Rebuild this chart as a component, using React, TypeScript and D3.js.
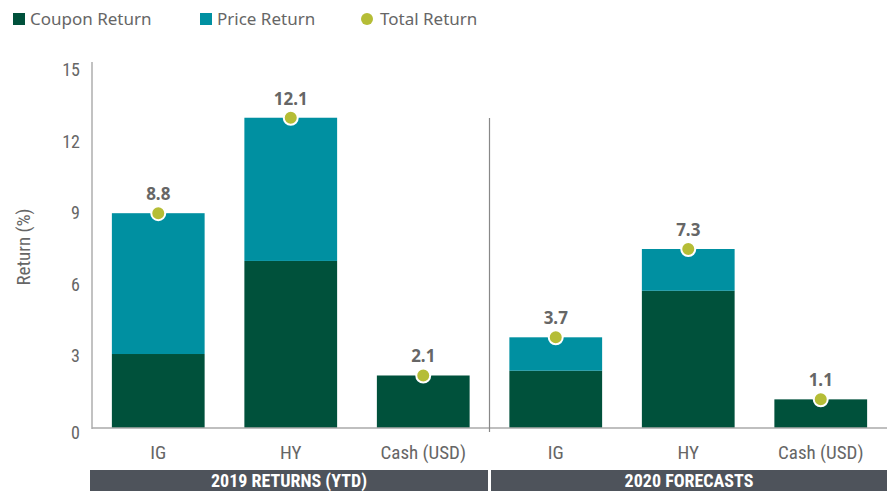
import React from "react";
import * as d3 from "d3";

const categories = ["IG", "HY", "Cash (USD)", "IG ", "HY ", "Cash (USD) "];
const categoryLabels = ["IG", "HY", "Cash (USD)", "IG", "HY", "Cash (USD)"];
const couponReturn = [3.1, 7.0, 2.2, 2.4, 5.75, 1.2];
const priceReturn = [5.9, 6.0, 0, 1.4, 1.75, 0];
const totalLabels = ["8.8", "12.1", "2.1", "3.7", "7.3", "1.1"];
const groups = ["2019 RETURNS (YTD)", "2020 FORECASTS"];
const yTicks = [0, 3, 6, 9, 12, 15];

const W = 887;
const H = 491;
const COUPON = "#00513b";
const PRICE = "#0090a1";
const TOTAL = "#b5bd36";
const TEXT = "#666666";
const NARROW = "'Liberation Sans Narrow', 'Arial Narrow', 'Roboto Condensed', sans-serif";
const SANS = "'Noto Sans', 'Open Sans', sans-serif";

export default function App() {
  const x = d3.scaleBand<string>().domain(categories).range([92, 887]).paddingInner(0.3).paddingOuter(0.15);
  const y = d3.scaleLinear().domain([0, 15]).range([428, 70]);
  const sepX = 92 + 3 * (795 / 6);

  return (
    <svg width={W} height={H} style={{ position: "absolute", left: 0, top: 0, background: "#fff" }}>
      {/* legend */}
      <g fontFamily={SANS} fontSize={17} fill={TEXT}>
        <rect x={13} y={13} width={12} height={12} fill={COUPON} />
        <text x={30} y={25}>Coupon Return</text>
        <rect x={200} y={13} width={12} height={12} fill={PRICE} />
        <text x={217} y={25}>Price Return</text>
        <circle cx={367} cy={19} r={6} fill={TOTAL} />
        <text x={380} y={25}>Total Return</text>
      </g>

      {/* y axis */}
      <line x1={92} x2={92} y1={62} y2={429} stroke="#999" strokeWidth={1.2} />
      {yTicks.map((t) => (
        <text key={t} x={80} y={y(t) + 6 + (t === 0 ? 5 : 0)} textAnchor="end" fontFamily={NARROW} fontSize={18} fill={TEXT}>
          {t}
        </text>
      ))}
      <text
        transform={`translate(30,247) rotate(-90)`}
        textAnchor="middle"
        fontFamily={NARROW}
        fontSize={19}
        fill={TEXT}
      >
        Return (%)
      </text>

      {/* bars */}
      {categories.map((c, i) => {
        const x0 = x(c)!;
        const bw = x.bandwidth();
        const top = couponReturn[i] + priceReturn[i];
        return (
          <g key={c}>
            <rect x={x0} y={y(couponReturn[i])} width={bw} height={y(0) - y(couponReturn[i])} fill={COUPON} />
            {priceReturn[i] > 0 && (
              <rect x={x0} y={y(top)} width={bw} height={y(couponReturn[i]) - y(top)} fill={PRICE} />
            )}
          </g>
        );
      })}

      {/* baseline & separator */}
      <line x1={92} x2={887} y1={428} y2={428} stroke="#aaa" strokeWidth={1.5} />
      <line x1={sepX} x2={sepX} y1={118} y2={432} stroke="#888" strokeWidth={1.2} />

      {/* totals */}
      {categories.map((c, i) => {
        const cx = x(c)! + x.bandwidth() / 2;
        const top = couponReturn[i] + priceReturn[i];
        return (
          <g key={"t" + c}>
            <circle cx={cx} cy={y(top)} r={7} fill={TOTAL} stroke="#fff" strokeWidth={2} />
            <text x={cx} y={y(top) - 13} textAnchor="middle" fontFamily={SANS} fontWeight={700} fontSize={17} fill={TEXT}>
              {totalLabels[i]}
            </text>
          </g>
        );
      })}

      {/* category labels */}
      {categories.map((c, i) => (
        <text key={"c" + c} x={x(c)! + x.bandwidth() / 2} y={459} textAnchor="middle" fontFamily={NARROW} fontSize={19} fill={TEXT}>
          {categoryLabels[i]}
        </text>
      ))}

      {/* group bands */}
      {groups.map((g, gi) => {
        const x0 = gi === 0 ? 90 : sepX + 1.5;
        const x1 = gi === 0 ? sepX - 1.5 : 887;
        return (
          <g key={g}>
            <rect x={x0} y={470} width={x1 - x0} height={21} fill="#4e535b" />
            <text x={(x0 + x1) / 2} y={487} textAnchor="middle" fontFamily={NARROW} fontWeight={700} fontSize={18} fill="#fff">
              {g}
            </text>
          </g>
        );
      })}
    </svg>
  );
}
